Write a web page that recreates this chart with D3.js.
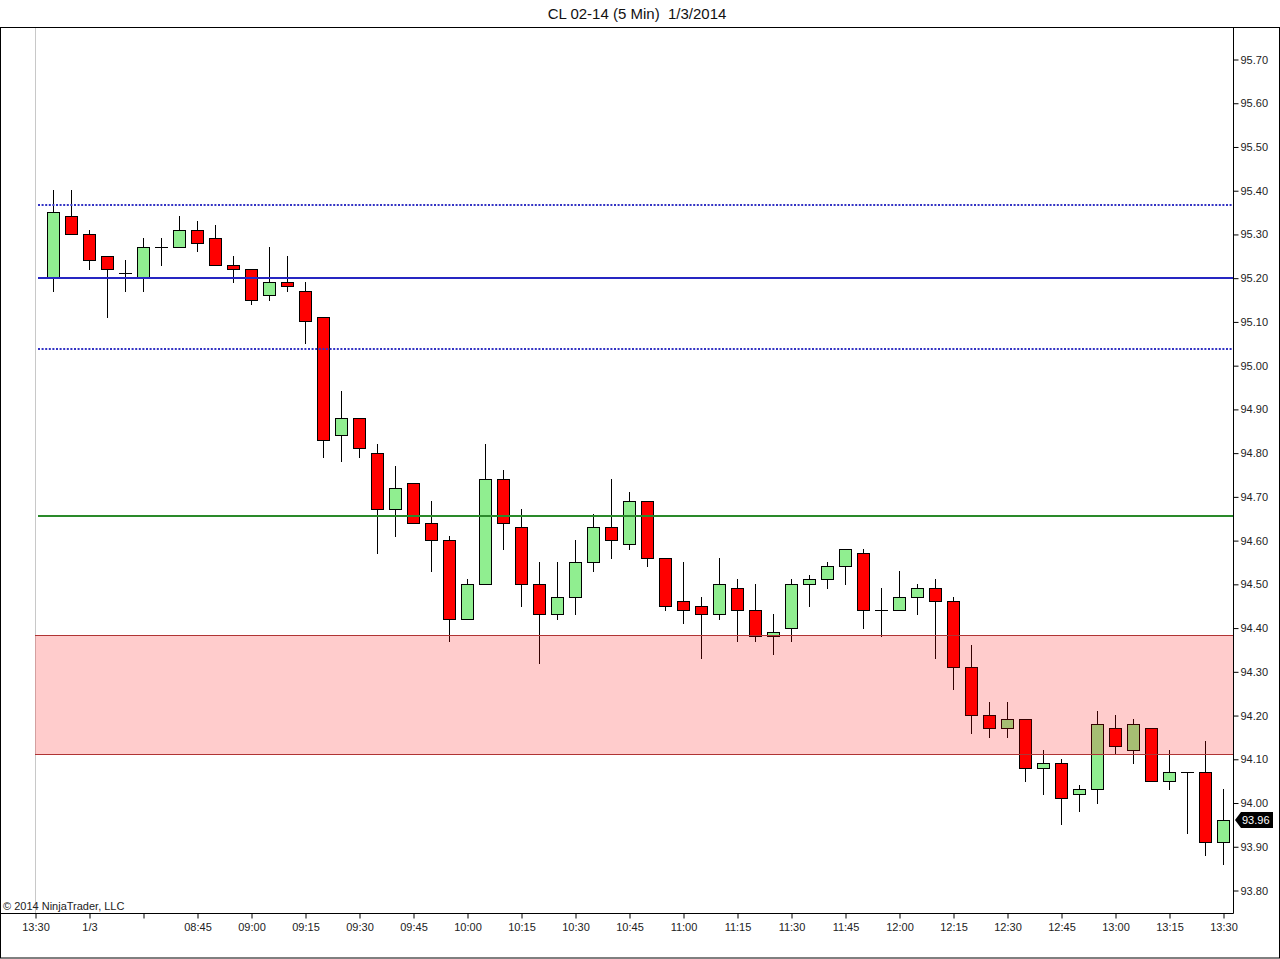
<!DOCTYPE html>
<html>
<head>
<meta charset="utf-8">
<script src="https://cdn.jsdelivr.net/npm/d3@7"></script>
<style>
    html, body { margin: 0; padding: 0; background: #fff; }
    svg { display: block; font-family: "Liberation Sans", Arial, sans-serif; }
</style>
</head>
<body>
<svg id="chart" width="1280" height="959"></svg>
<script>
// bars 1..66, slot 0 is the 13:30 close of the prior session
const opens  = [95.20, 95.34, 95.30, 95.25, 95.21, 95.20, 95.27, 95.27, 95.31, 95.29, 95.23, 95.22, 95.16, 95.19, 95.17, 95.11, 94.84, 94.88, 94.80, 94.67, 94.73, 94.64, 94.60, 94.42, 94.50, 94.74, 94.63, 94.50, 94.43, 94.47, 94.55, 94.63, 94.59, 94.69, 94.56, 94.46, 94.45, 94.43, 94.49, 94.44, 94.38, 94.40, 94.50, 94.51, 94.54, 94.57, 94.44, 94.44, 94.47, 94.49, 94.46, 94.31, 94.20, 94.17, 94.19, 94.08, 94.09, 94.02, 94.03, 94.17, 94.12, 94.17, 94.05, 94.07, 94.07, 93.91];
const highs  = [95.40, 95.40, 95.31, 95.25, 95.24, 95.29, 95.29, 95.34, 95.33, 95.32, 95.25, 95.22, 95.27, 95.25, 95.19, 95.11, 94.94, 94.88, 94.82, 94.77, 94.73, 94.69, 94.61, 94.51, 94.82, 94.76, 94.67, 94.55, 94.55, 94.60, 94.66, 94.74, 94.71, 94.69, 94.56, 94.55, 94.47, 94.56, 94.51, 94.50, 94.43, 94.51, 94.52, 94.55, 94.58, 94.58, 94.49, 94.53, 94.50, 94.51, 94.47, 94.36, 94.23, 94.23, 94.19, 94.12, 94.10, 94.04, 94.21, 94.20, 94.19, 94.17, 94.12, 94.07, 94.14, 94.03];
const lows   = [95.17, 95.30, 95.22, 95.11, 95.17, 95.17, 95.23, 95.27, 95.26, 95.23, 95.19, 95.14, 95.15, 95.17, 95.05, 94.79, 94.78, 94.79, 94.57, 94.61, 94.64, 94.53, 94.37, 94.42, 94.50, 94.58, 94.45, 94.32, 94.42, 94.43, 94.53, 94.56, 94.58, 94.54, 94.44, 94.41, 94.33, 94.42, 94.37, 94.37, 94.34, 94.37, 94.45, 94.49, 94.50, 94.40, 94.38, 94.44, 94.43, 94.33, 94.26, 94.16, 94.15, 94.15, 94.05, 94.02, 93.95, 93.98, 94.00, 94.11, 94.09, 94.05, 94.03, 93.93, 93.88, 93.86];
const closes = [95.35, 95.30, 95.24, 95.22, 95.21, 95.27, 95.27, 95.31, 95.28, 95.23, 95.22, 95.15, 95.19, 95.18, 95.10, 94.83, 94.88, 94.81, 94.67, 94.72, 94.64, 94.60, 94.42, 94.50, 94.74, 94.64, 94.50, 94.43, 94.47, 94.55, 94.63, 94.60, 94.69, 94.56, 94.45, 94.44, 94.43, 94.50, 94.44, 94.38, 94.39, 94.50, 94.51, 94.54, 94.58, 94.44, 94.44, 94.47, 94.49, 94.46, 94.31, 94.20, 94.17, 94.19, 94.08, 94.09, 94.01, 94.03, 94.18, 94.13, 94.18, 94.05, 94.07, 94.07, 93.91, 93.96];

// time axis
const tickSlots  = [0, 3, 6, 9, 12, 15, 18, 21, 24, 27, 30, 33, 36, 39, 42, 45, 48, 51, 54, 57, 60, 63, 66];
const tickLabels = ["13:30", "1/3", "", "08:45", "09:00", "09:15", "09:30", "09:45", "10:00", "10:15", "10:30", "10:45", "11:00", "11:15", "11:30", "11:45", "12:00", "12:15", "12:30", "12:45", "13:00", "13:15", "13:30"];

// price axis
const priceTicks = [93.80, 93.90, 94.00, 94.10, 94.20, 94.30, 94.40, 94.50, 94.60, 94.70, 94.80, 94.90, 95.00, 95.10, 95.20, 95.30, 95.40, 95.50, 95.60, 95.70];

// drawn levels
const solidBlueLevels  = [95.20];
const dottedBlueLevels = [95.366, 95.037];
const greenLevels      = [94.655];
const zoneLevels       = [94.383, 94.111];

const titleText = "CL 02-14 (5 Min)  1/3/2014";
const copyrightText = "\u00a9 2014 NinjaTrader, LLC";

const W = 1280, H = 959;
const plotTop = 27, plotBottom = 913, plotRight = 1233;

const bars = opens.map((o, i) => ({ slot: i + 1, o: o, h: highs[i], l: lows[i], c: closes[i] }));

const svg = d3.select("#chart");

const x = d3.scaleLinear().domain([0, 66]).range([35, 1223]);
const y = d3.scaleLinear().domain([93.80, 95.70]).range([890, 59]);

const px = v => Math.round(v) + 0.5;

// white background
svg.append("rect").attr("x", 0).attr("y", 0).attr("width", W).attr("height", H).attr("fill", "#fff");

// title
svg.append("text")
    .attr("x", 637).attr("y", 19)
    .attr("text-anchor", "middle")
    .style("font-size", "15px")
    .style("white-space", "pre")
    .attr("xml:space", "preserve")
    .attr("fill", "#111")
    .text(titleText);

// session break line
svg.append("line")
    .attr("x1", px(x(0))).attr("x2", px(x(0)))
    .attr("y1", plotTop).attr("y2", plotBottom)
    .attr("stroke", "#c8c8c8").attr("stroke-width", 1);

// candles
const g = svg.append("g");

const candle = g.selectAll(".bar")
    .data(bars)
    .enter().append("g")
    .attr("class", "bar");

candle.append("line")
    .attr("x1", d => px(x(d.slot))).attr("x2", d => px(x(d.slot)))
    .attr("y1", d => Math.round(y(d.h))).attr("y2", d => Math.round(y(d.l)) + 1)
    .attr("stroke", "#000").attr("stroke-width", 1);

candle.each(function (d) {
    const cx = Math.round(x(d.slot));
    const sel = d3.select(this);
    if (d.o === d.c) {
        sel.append("line")
            .attr("x1", cx - 6).attr("x2", cx + 7)
            .attr("y1", px(y(d.o))).attr("y2", px(y(d.o)))
            .attr("stroke", "#000").attr("stroke-width", 1);
    } else {
        const top = Math.round(y(Math.max(d.o, d.c)));
        const bot = Math.round(y(Math.min(d.o, d.c)));
        sel.append("rect")
            .attr("x", cx - 5.5).attr("width", 12)
            .attr("y", top + 0.5).attr("height", Math.max(1, bot - top))
            .attr("fill", d.c > d.o ? "#90ee90" : "#ff0000")
            .attr("stroke", "#000").attr("stroke-width", 1);
    }
});

// zone (drawn over the bars, semi transparent)
svg.append("rect")
    .attr("x", x(0)).attr("width", plotRight - x(0))
    .attr("y", y(zoneLevels[0])).attr("height", y(zoneLevels[1]) - y(zoneLevels[0]))
    .attr("fill", "rgba(255,0,0,0.2)");

svg.selectAll(".zoneEdge")
    .data(zoneLevels)
    .enter().append("line")
    .attr("class", "zoneEdge")
    .attr("x1", x(0)).attr("x2", plotRight)
    .attr("y1", d => px(y(d))).attr("y2", d => px(y(d)))
    .attr("stroke", "#b03434").attr("stroke-width", 1);

// level lines
const lineStart = x(0) + 3;

svg.selectAll(".dotted")
    .data(dottedBlueLevels)
    .enter().append("line")
    .attr("x1", lineStart).attr("x2", plotRight)
    .attr("y1", d => Math.round(y(d))).attr("y2", d => Math.round(y(d)))
    .attr("stroke", "#3333c4").attr("stroke-width", 2)
    .attr("stroke-dasharray", "2,1.6");

svg.selectAll(".solidBlue")
    .data(solidBlueLevels)
    .enter().append("line")
    .attr("x1", lineStart).attr("x2", plotRight)
    .attr("y1", d => Math.round(y(d))).attr("y2", d => Math.round(y(d)))
    .attr("stroke", "#2626c2").attr("stroke-width", 2);

svg.selectAll(".green")
    .data(greenLevels)
    .enter().append("line")
    .attr("x1", lineStart).attr("x2", plotRight)
    .attr("y1", d => Math.round(y(d))).attr("y2", d => Math.round(y(d)))
    .attr("stroke", "#2a8a2a").attr("stroke-width", 2);

// frame
svg.append("rect")
    .attr("x", 0.5).attr("y", plotTop + 0.5)
    .attr("width", W - 1).attr("height", H - plotTop - 1.5)
    .attr("fill", "none").attr("stroke", "#000");

svg.append("line")
    .attr("x1", 0).attr("x2", plotRight + 0.5)
    .attr("y1", plotBottom + 0.5).attr("y2", plotBottom + 0.5)
    .attr("stroke", "#000");

svg.append("line")
    .attr("x1", plotRight + 0.5).attr("x2", plotRight + 0.5)
    .attr("y1", plotTop).attr("y2", plotBottom + 0.5)
    .attr("stroke", "#000");

// x axis
const xAxis = svg.append("g")
    .attr("transform", `translate(0.5,${plotBottom + 0.5})`)
    .call(d3.axisBottom(x)
        .tickValues(tickSlots)
        .tickSize(5)
        .tickFormat((d, i) => tickLabels[i]));
xAxis.select(".domain").remove();
xAxis.selectAll("text").style("font-size", "11px").attr("fill", "#222").attr("dy", "0.85em");
xAxis.selectAll("line").attr("stroke", "#000");

// y axis
const yAxis = svg.append("g")
    .attr("transform", `translate(${plotRight + 0.5},0.5)`)
    .call(d3.axisRight(y)
        .tickValues(priceTicks)
        .tickSize(5)
        .tickPadding(2)
        .tickFormat(d3.format(".2f")));
yAxis.select(".domain").remove();
yAxis.selectAll("text").style("font-size", "11px").attr("fill", "#222");
yAxis.selectAll("line").attr("stroke", "#000");

// copyright
svg.append("text")
    .attr("x", 3).attr("y", plotBottom - 3)
    .style("font-size", "11px")
    .attr("fill", "#222")
    .text(copyrightText);

// last price marker
const last = closes[closes.length - 1];
const ly = Math.round(y(last));
const mx = plotRight + 2;
svg.append("path")
    .attr("d", `M${mx},${ly} L${mx + 6},${ly - 8} L${mx + 38},${ly - 8} L${mx + 38},${ly + 8} L${mx + 6},${ly + 8} Z`)
    .attr("fill", "#000");
svg.append("text")
    .attr("x", mx + 7).attr("y", ly)
    .attr("dy", "0.35em")
    .style("font-size", "11px")
    .attr("fill", "#fff")
    .text(d3.format(".2f")(last));
</script>
</body>
</html>
